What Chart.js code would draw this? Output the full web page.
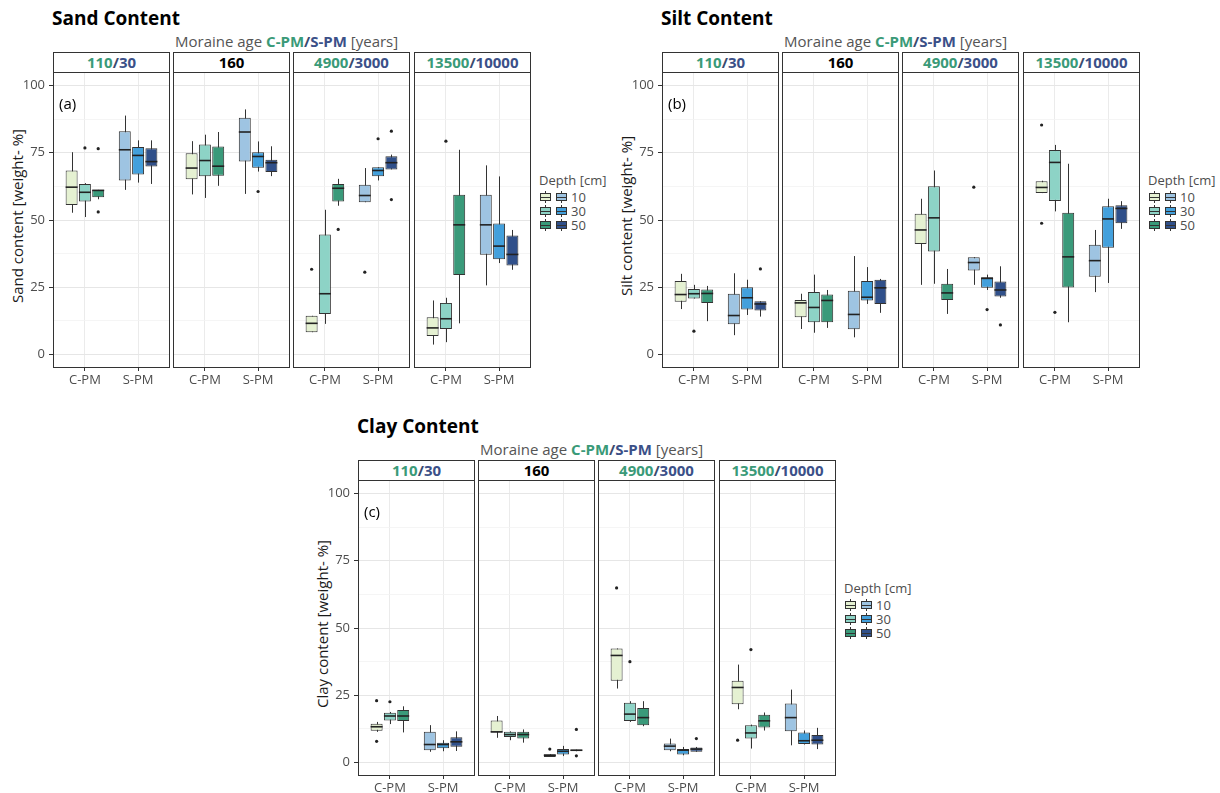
<!DOCTYPE html>
<html>
<head>
<meta charset="utf-8">
<title>Grain size boxplots</title>
<script src="https://cdn.jsdelivr.net/npm/chart.js@4.4.0/dist/chart.umd.min.js"></script>
<style>
  html, body { margin: 0; padding: 0; background: #fff; }
  body { width: 1220px; height: 793px; position: relative; overflow: hidden; font-family: 'Open Sans', sans-serif; }
  .abs { position: absolute; white-space: nowrap; }
  .title { font-size: 19px; font-weight: 700; color: #000; line-height: 19px; }
  .sub { font-size: 15px; color: #555; line-height: 15px; }
  .sub b, .strip b { font-weight: 700; }
  .strip { box-sizing: border-box; border: 1px solid #333; background: #fff; text-align: center;
           font-size: 15px; font-weight: 700; line-height: 19px; color: #000; }
  .ytitle { font-size: 15px; color: #1a1a1a; text-align: center; line-height: 18px; transform: rotate(-90deg); }
  .plab { font-size: 15px; color: #000; line-height: 20px; }
  .legtitle { font-size: 13px; color: #4d4d4d; line-height: 18px; }
  .legtxt { font-size: 13px; color: #4d4d4d; line-height: 14px; }
  .key { position: absolute; width: 13px; height: 14px; }
  .key .wh { position: absolute; left: 6px; width: 1px; top: 1px; height: 12px; background: #333; }
  .key .bx { position: absolute; left: 1px; top: 3px; width: 11px; height: 8px; box-sizing: border-box; border: 1px solid #333; }
  .key .md { position: absolute; left: 1px; top: 6.5px; width: 11px; height: 1px; background: #333; }
  .chartbox { position: absolute; }
</style>
</head>
<body>
<script>
// groups on the x axis and the depth classes
const groups = ['C-PM', 'S-PM'];
const depths = ['10', '30', '50'];
// moraine ages of each facet (C-PM / S-PM); one entry means both are equal
const facetAges = [['110', '30'], ['160'], ['4900', '3000'], ['13500', '10000']];
const yTicks = [0, 12.5, 25, 37.5, 50, 62.5, 75, 87.5, 100];

// box stats [min, q1, median, q3, max], order per facet: C10, C30, C50, S10, S30, S50
const sandStats = [
  [[52.7, 55.6, 62.2, 68.4, 75.2], [51.1, 56.9, 60.3, 63.4, 63.7], [57.7, 58.5, 61.0, 61.2, 61.2],
   [61.2, 64.7, 76.1, 83.0, 88.8], [63.9, 66.9, 74.0, 77.1, 79.6], [63.4, 69.9, 71.7, 76.7, 79.6]],
  [[59.5, 65.1, 69.3, 74.8, 79.3], [58.2, 66.3, 72.1, 78.1, 81.7], [62.7, 66.4, 70.0, 77.3, 82.7],
   [59.7, 71.7, 82.7, 88.0, 91.1], [68.0, 69.4, 73.6, 75.2, 79.2], [66.3, 67.8, 71.3, 72.4, 77.4]],
  [[8.3, 8.3, 11.6, 14.4, 14.4], [11.4, 15.1, 22.6, 44.6, 53.8], [55.3, 56.9, 61.8, 63.4, 65.3],
   [56.6, 56.6, 59.1, 63.1, 69.3], [64.7, 66.3, 68.4, 69.6, 69.6], [68.8, 68.8, 71.3, 73.7, 74.3]],
  [[3.7, 6.9, 9.9, 13.9, 20.1], [4.6, 9.5, 13.3, 19.2, 21.1], [11.6, 29.6, 48.2, 59.4, 76.1],
   [25.7, 37.1, 48.2, 59.4, 70.3], [34.0, 35.4, 40.3, 48.7, 66.2], [31.5, 33.1, 37.2, 44.2, 46.3]]
];
const sandOutliers = [
  [[], [76.8], [76.5, 53.0], [], [], []],
  [[], [], [], [], [60.6], []],
  [[31.7], [], [46.5], [30.6], [80.2], [83.0, 57.6]],
  [[], [79.3], [], [], [], []]
];

const siltStats = [
  [[16.9, 19.6, 22.3, 27.3, 30.0], [20.8, 20.8, 22.6, 24.4, 25.9], [12.4, 19.2, 22.7, 24.2, 25.5],
   [7.2, 11.3, 14.5, 22.6, 30.2], [14.7, 16.7, 21.1, 25.0, 27.8], [14.1, 16.4, 18.8, 19.8, 19.8]],
  [[9.5, 13.9, 19.2, 20.3, 22.6], [8.1, 12.0, 17.5, 23.2, 29.7], [9.9, 12.0, 20.1, 22.3, 24.0],
   [6.4, 9.4, 14.9, 23.7, 36.6], [18.8, 20.1, 21.3, 27.3, 32.5], [15.5, 18.8, 24.8, 27.8, 28.1]],
  [[25.9, 41.1, 46.3, 52.3, 57.9], [26.3, 38.3, 50.8, 62.5, 68.4], [15.1, 20.3, 22.9, 26.3, 31.8],
   [25.9, 31.2, 34.2, 36.2, 36.2], [24.0, 24.8, 28.3, 28.7, 29.7], [21.1, 21.6, 24.0, 27.1, 32.8]],
  [[60.0, 60.0, 62.1, 64.4, 64.6], [53.2, 57.1, 71.4, 76.0, 77.9], [12.0, 24.9, 36.3, 52.7, 70.9],
   [23.2, 28.9, 34.9, 40.8, 46.3], [26.6, 39.7, 50.4, 55.1, 57.9], [46.7, 48.8, 54.3, 55.5, 57.0]]
];
const siltOutliers = [
  [[], [8.7], [], [], [], [31.8]],
  [[], [], [], [], [], []],
  [[], [], [], [62.2], [16.7], [11.0]],
  [[85.3, 48.8], [15.7], [], [], [], []]
];

const clayStats = [
  [[11.4, 11.8, 13.3, 14.4, 15.1], [14.3, 15.6, 17.3, 18.5, 18.8], [11.2, 15.4, 17.3, 19.5, 20.9],
   [4.0, 4.6, 6.7, 11.4, 13.9], [4.2, 5.3, 6.7, 7.4, 8.3], [4.3, 5.9, 7.7, 9.4, 11.6]],
  [[9.2, 11.2, 11.4, 15.6, 17.3], [8.3, 9.5, 10.4, 11.4, 11.6], [7.4, 8.9, 10.4, 11.4, 12.3],
   [2.1, 2.1, 2.7, 3.1, 3.1], [2.4, 3.0, 4.2, 5.0, 6.2], [4.2, 4.2, 4.6, 4.8, 4.8]],
  [[27.5, 30.4, 39.8, 42.4, 42.4], [15.1, 15.4, 18.0, 22.2, 22.8], [13.5, 13.9, 16.7, 20.3, 22.8],
   [4.2, 4.6, 6.1, 7.1, 8.9], [2.7, 3.0, 4.6, 5.0, 5.8], [4.0, 4.0, 5.0, 5.6, 5.8]],
  [[19.8, 21.7, 27.9, 30.4, 36.4], [5.2, 8.9, 11.0, 13.9, 14.1], [11.9, 13.0, 15.5, 17.8, 18.6],
   [6.4, 11.6, 16.7, 21.9, 27.1], [6.7, 6.9, 8.1, 11.2, 11.9], [5.0, 6.7, 8.3, 10.2, 12.9]]
];
const clayOutliers = [
  [[23.0, 7.9], [22.6], [], [], [], []],
  [[], [], [], [5.0], [], [12.3, 2.5]],
  [[64.9], [37.5], [], [], [], [8.9]],
  [[8.3], [42.0], [], [], [], []]
];

// fills: C-PM depths, then S-PM depths
const cFill = ['#e5f1d2', '#8dd3c6', '#3a9a7a'];
const sFill = ['#9ec4e2', '#43a0dc', '#30508a'];
const cText = '#3a9a78';
const sText = '#3b5088';
const lineCol = '#333333';

// layout of the three panels
const PLOT_H = 296, FACET_W = 117, YW = 30, XH = 22;
const facetOff = [0, 120, 240, 361];
const panels = [
  { title: 'Sand Content', yTitle: 'Sand content [weight- %]', tag: '(a)', left: 53, top: 72, stats: sandStats, outliers: sandOutliers },
  { title: 'Silt Content', yTitle: 'Silt content [weight- %]', tag: '(b)', left: 662, top: 72, stats: siltStats, outliers: siltOutliers },
  { title: 'Clay Content', yTitle: 'Clay content [weight- %]', tag: '(c)', left: 358, top: 480, stats: clayStats, outliers: clayOutliers }
];

Chart.defaults.font.family = "'Open Sans', sans-serif";
Chart.defaults.animation = false;

function el(cls, left, top, html, extra) {
  const d = document.createElement('div');
  d.className = 'abs ' + cls;
  d.style.left = left + 'px';
  d.style.top = top + 'px';
  if (extra) Object.assign(d.style, extra);
  d.innerHTML = html;
  document.body.appendChild(d);
  return d;
}

// whiskers under the boxes, medians + outliers + panel frame on top
const boxExtras = {
  id: 'boxExtras',
  beforeDatasetsDraw(chart) {
    const ctx = chart.ctx, y = chart.scales.y;
    ctx.save();
    ctx.strokeStyle = lineCol;
    ctx.lineWidth = 1;
    chart.data.datasets.forEach((ds, i) => {
      chart.getDatasetMeta(i).data.forEach((bar, j) => {
        const s = ds.stats[j];
        const x = Math.round(bar.x) + 0.5;
        ctx.beginPath();
        ctx.moveTo(x, y.getPixelForValue(s[0]));
        ctx.lineTo(x, y.getPixelForValue(s[4]));
        ctx.stroke();
      });
    });
    ctx.restore();
  },
  afterDatasetsDraw(chart) {
    const ctx = chart.ctx, y = chart.scales.y;
    ctx.save();
    chart.data.datasets.forEach((ds, i) => {
      chart.getDatasetMeta(i).data.forEach((bar, j) => {
        const s = ds.stats[j];
        const half = bar.width / 2;
        const ym = y.getPixelForValue(s[2]);
        ctx.strokeStyle = '#222';
        ctx.lineWidth = 1.6;
        ctx.beginPath();
        ctx.moveTo(bar.x - half, ym);
        ctx.lineTo(bar.x + half, ym);
        ctx.stroke();
        ctx.fillStyle = '#222';
        ds.outliers[j].forEach(v => {
          ctx.beginPath();
          ctx.arc(bar.x, y.getPixelForValue(v), 1.6, 0, Math.PI * 2);
          ctx.fill();
        });
      });
    });
    ctx.restore();
  },
  afterDraw(chart) {
    const a = chart.chartArea, ctx = chart.ctx;
    ctx.save();
    ctx.strokeStyle = lineCol;
    ctx.lineWidth = 1;
    ctx.strokeRect(Math.round(a.left) + 0.5, Math.round(a.top) + 0.5,
                   Math.round(a.right - a.left) - 1, Math.round(a.bottom - a.top) - 1);
    ctx.restore();
  }
};

function isMajor(ctx) {
  return ctx.tick && ctx.tick.value % 25 === 0;
}

function buildFacet(p, f) {
  const first = f === 0;
  const left = p.left + facetOff[f] - (first ? YW : 0);
  const width = FACET_W + (first ? YW : 0);
  const box = document.createElement('div');
  box.className = 'chartbox';
  Object.assign(box.style, { left: left + 'px', top: p.top + 'px', width: width + 'px', height: (PLOT_H + XH) + 'px' });
  const canvas = document.createElement('canvas');
  box.appendChild(canvas);
  document.body.appendChild(box);

  const datasets = depths.map((d, k) => ({
    label: d,
    data: groups.map((g, j) => {
      const s = p.stats[f][j * 3 + k];
      return { x: j + 1, y: [s[1], s[3]] };
    }),
    stats: groups.map((g, j) => p.stats[f][j * 3 + k]),
    outliers: groups.map((g, j) => p.outliers[f][j * 3 + k]),
    backgroundColor: [cFill[k], sFill[k]],
    borderColor: lineCol,
    borderWidth: 1,
    borderSkipped: false,
    categoryPercentage: 0.75,
    barPercentage: 0.9
  }));

  new Chart(canvas, {
    type: 'bar',
    data: { datasets },
    options: {
      responsive: true,
      maintainAspectRatio: false,
      layout: { padding: 0 },
      plugins: { legend: { display: false }, tooltip: { enabled: false } },
      scales: {
        x: {
          type: 'linear',
          min: 0.4,
          max: 2.6,
          offset: false,
          afterBuildTicks: s => { s.ticks = [{ value: 1 }, { value: 2 }]; },
          afterFit: s => { s.height = XH; s.paddingLeft = 0; s.paddingRight = 0; },
          grid: { offset: false, color: '#ebebeb', lineWidth: 1, tickColor: lineCol, tickLength: 3 },
          border: { display: false },
          ticks: { padding: 1, color: '#4d4d4d', font: { size: 13 }, callback: v => groups[v - 1] }
        },
        y: {
          min: -5,
          max: 105,
          afterBuildTicks: s => { s.ticks = yTicks.map(v => ({ value: v })); },
          // keep the plot area flush with the facet frame
          afterFit: s => { s.width = first ? YW : 0; s.paddingTop = 0; s.paddingBottom = 0; },
          grid: {
            color: ctx => isMajor(ctx) ? '#e6e6e6' : '#f3f3f3',
            lineWidth: ctx => isMajor(ctx) ? 1 : 0.8,
            tickColor: ctx => isMajor(ctx) ? lineCol : 'rgba(0,0,0,0)',
            tickLength: 4,
            drawTicks: first
          },
          border: { display: false },
          ticks: {
            display: first,
            padding: 4,
            color: '#4d4d4d',
            font: { size: 13 },
            callback: v => (v % 25 === 0 ? v : '')
          }
        }
      }
    },
    plugins: [boxExtras]
  });

  // facet strip
  const ages = facetAges[f];
  const stripHtml = ages.length === 1
    ? ages[0]
    : '<span style="color:' + cText + '">' + ages[0] + '</span><span style="color:#3a4a6e">/</span><span style="color:' + sText + '">' + ages[1] + '</span>';
  el('strip', p.left + facetOff[f], p.top - 20, stripHtml, { width: FACET_W + 'px', height: '21px' });
}

function buildLegend(x, y) {
  el('legtitle', x, y - 9, 'Depth [cm]');
  depths.forEach((d, k) => {
    const cy = y + 17 + k * 14;
    [cFill[k], sFill[k]].forEach((fill, c) => {
      const key = document.createElement('div');
      key.className = 'key';
      key.style.left = (x + c * 16) + 'px';
      key.style.top = (cy - 7) + 'px';
      key.innerHTML = '<div class="wh"></div><div class="bx" style="background:' + fill + '"></div><div class="md"></div>';
      document.body.appendChild(key);
    });
    el('legtxt', x + 32, cy - 7, d);
  });
}

panels.forEach(p => {
  el('title', p.left - 1, p.top - 63, p.title);
  el('sub', p.left + 122, p.top - 38,
     'Moraine age <b style="color:' + cText + '">C-PM</b><b style="color:#3a4a6e">/</b><b style="color:' + sText + '">S-PM</b> [years]');
  el('ytitle', p.left - 36 - PLOT_H / 2, p.top + PLOT_H / 2 - 13, p.yTitle, { width: PLOT_H + 'px', height: '18px' });
  for (let f = 0; f < 4; f++) buildFacet(p, f);
  el('plab', p.left + 6, p.top + 21, p.tag);
  buildLegend(p.left + 486, p.top + 108);
});
</script>
</body>
</html>
